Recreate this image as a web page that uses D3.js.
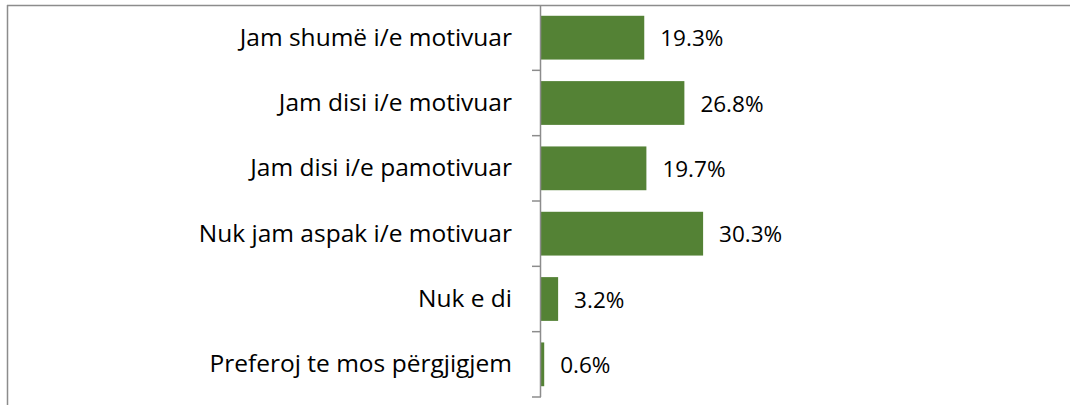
<!DOCTYPE html>
<html><head><meta charset="utf-8">
<script src="https://cdn.jsdelivr.net/npm/d3@7"></script>
<style>body{margin:0;background:#fff}svg{display:block}text{font-family:"Open Sans",sans-serif;fill:#000}</style>
</head><body><svg id="c" width="1070" height="405"></svg>
<script>
const categories = ["Jam shumë i/e motivuar","Jam disi i/e motivuar","Jam disi i/e pamotivuar","Nuk jam aspak i/e motivuar","Nuk e di","Preferoj te mos përgjigjem"];
const values = [19.3,26.8,19.7,30.3,3.2,0.6];
const labels = ["19.3%","26.8%","19.7%","30.3%","3.2%","0.6%"];

const svg = d3.select("#c");
svg.append("line").attr("x1",7.5).attr("x2",7.5).attr("y1",5).attr("y2",405).attr("stroke","#8c8c8c").attr("stroke-width",1.5);
svg.append("line").attr("x1",7).attr("x2",1070).attr("y1",5.5).attr("y2",5.5).attr("stroke","#8c8c8c").attr("stroke-width",1.5);

const x = d3.scaleLinear().domain([0,35]).range([541,541+35*5.35]);
const y = d3.scaleBand().domain(categories).range([5,397]).paddingInner(0.33).paddingOuter(0.165);

svg.selectAll("rect.bar").data(values).join("rect").attr("class","bar")
  .attr("x",x(0)).attr("y",(d,i)=>y(categories[i]))
  .attr("width",d=>x(d)-x(0)).attr("height",y.bandwidth()).attr("fill","#548235");

svg.selectAll("text.val").data(values).join("text").attr("class","val")
  .attr("x",d=>x(d)+16).attr("y",(d,i)=>y(categories[i])+y.bandwidth()/2)
  .attr("dy","0.38em").attr("font-size",22.5).text((d,i)=>labels[i]);

const yAxis = d3.scaleBand().domain(categories).range([5,397]);
const g = svg.append("g");
g.append("line").attr("x1",540.5).attr("x2",540.5).attr("y1",5).attr("y2",397).attr("stroke","#8c8c8c").attr("stroke-width",1.5);
g.selectAll("line.tick").data(categories).join("line").attr("class","tick")
  .attr("x1",532).attr("x2",541).attr("y1",c=>yAxis(c)+yAxis.bandwidth()).attr("y2",c=>yAxis(c)+yAxis.bandwidth())
  .attr("stroke","#8c8c8c").attr("stroke-width",1.5);
g.selectAll("text.cat").data(categories).join("text").attr("class","cat")
  .attr("x",512).attr("y",c=>yAxis(c)+yAxis.bandwidth()/2).attr("dy","0.33em")
  .attr("text-anchor","end").attr("font-size",24.5).text(c=>c);
</script></body></html>
